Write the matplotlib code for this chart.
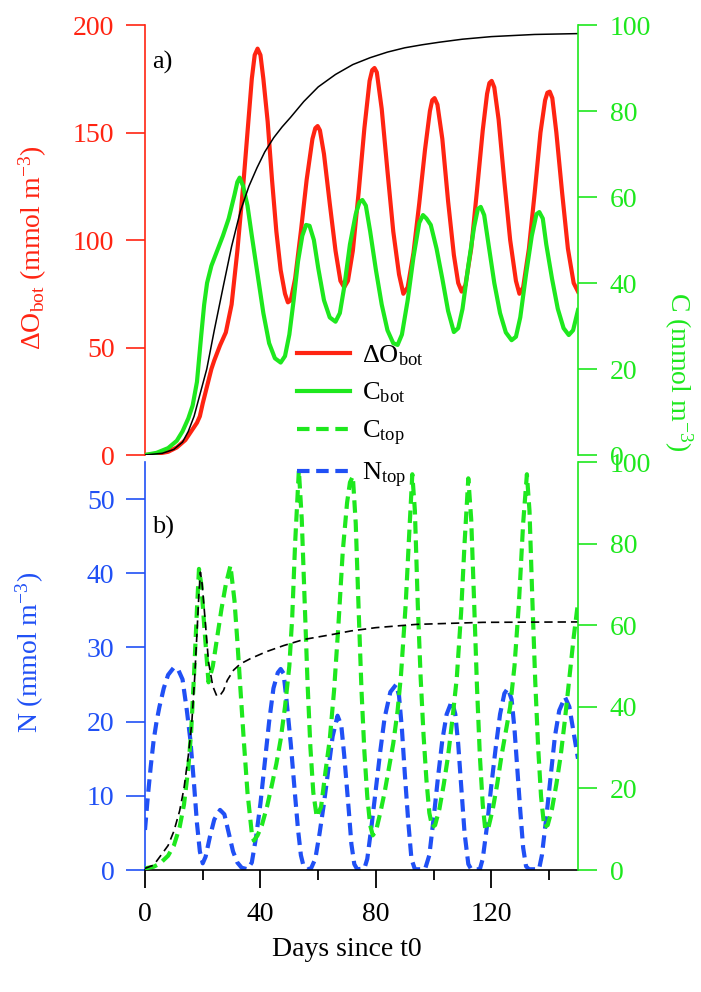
import matplotlib
matplotlib.use('Agg')
import matplotlib.pyplot as plt
from matplotlib.ticker import MultipleLocator

plt.rcParams['font.family'] = ['Liberation Serif', 'DejaVu Serif']
plt.rcParams['mathtext.fontset'] = 'custom'
plt.rcParams['mathtext.rm'] = 'Liberation Serif'
plt.rcParams['mathtext.default'] = 'regular'

RED = '#ff2412'
GREEN = '#1ee81e'
BLUE = '#2050f5'
FS = 20

# ---- panel a) : bottom oxygen deficit (left axis) and C (right axis)
dO_day = [0, 4, 8, 11, 14, 16, 18, 19, 20, 21.5, 23, 24, 26, 28, 30, 32, 34, 35.5, 37, 38, 39, 40, 41,
          42.5, 44, 45.5, 47, 48.5, 49.5, 50.5, 52, 54, 56, 58, 59, 59.8, 60.6, 62, 64, 66, 67.7, 69,
          70.3, 72, 74, 76, 77.8, 78.7, 79.5, 80.3, 82, 84, 86, 88, 89.5, 91, 93, 95, 97, 98.7, 99.5,
          100.3, 101.3, 103, 105, 107, 108.5, 109.7, 111, 113, 115, 117, 118.5, 119.3, 120.1, 121,
          122.5, 124.5, 126.5, 128.5, 129.7, 131, 133, 135, 137, 138.6, 139.4, 140.2, 141.1, 142.5,
          144.5, 146.5, 148.5, 150]
dO_bot = [0, 0.5, 1.5, 3.5, 7, 11, 15, 18, 24, 32, 40, 44, 51, 57, 70, 95, 125, 150, 175, 186, 189,
          186, 175, 155, 128, 104, 86, 75, 71, 72, 82, 104, 128, 147, 152, 153, 151, 140, 117, 95,
          81, 78, 81, 95, 122, 152, 174, 179, 180, 178, 161, 132, 104, 84, 75, 78, 94, 117, 142, 160,
          165, 166, 163, 147, 118, 93, 80, 76, 79, 96, 123, 151, 168, 173, 174, 171, 156, 127, 100, 81,
          75, 78, 96, 122, 150, 165, 168.5, 169, 166, 150, 122, 96, 80, 76]

cb_day = [0, 4, 8, 11, 13, 15, 16.5, 18, 19.5, 20.5, 21.5, 23, 25, 27, 29, 31, 32, 32.8, 34, 35.5, 37,
          39, 41, 43, 45, 47, 48.5, 50, 51.5, 53, 54.5, 55.8, 57, 58.5, 60, 62, 64, 66, 67.5, 69, 71,
          73, 74.3, 75.3, 76.5, 78, 80, 82, 84, 86, 87.5, 89, 91, 93, 95, 96.3, 97.5, 99, 101, 103, 105,
          107, 108.5, 110, 112, 114, 115.3, 116.3, 117.5, 119, 121, 123, 125, 127, 128.5, 130, 132,
          134, 135.6, 136.6, 137.8, 139, 141, 143, 145, 146.8, 148.3, 150]
c_bot = [0, 0.5, 1.6, 3.3, 5.5, 8.5, 11.5, 17, 28, 35, 40, 44, 47.5, 51, 55, 60.5, 63.5, 64.5, 62.5,
         58, 51, 42, 33, 26, 22.5, 21.5, 23, 28, 36, 45, 51, 53.5, 53.3, 50, 43.5, 36, 32, 31, 33, 39,
         49, 56, 58.8, 59.3, 58, 52, 43, 35, 29, 26, 25.6, 28, 36, 46, 54, 55.8, 55, 53.5, 48, 41,
         33.5, 28.6, 29.5, 34, 44, 53, 57.2, 57.7, 55.8, 49, 40, 33, 28.5, 26.7, 27.5, 32, 42, 51,
         56, 56.5, 55, 49, 41, 34, 29.5, 27.9, 29, 33.7]

cum_day = [0, 6, 10, 13, 15, 17, 19, 21.4, 24, 27.2, 30, 33, 36, 38.8, 41.5, 44.6, 47.5, 50.4, 55,
           60, 66, 72, 78, 84, 90, 96, 102, 110, 120, 135, 150]
cum_a = [0, 0.4, 1.3, 3, 5.5, 9, 14, 20, 29, 39.5, 48.5, 56.6, 62.5, 66.8, 70.5, 73.8, 76.3, 78.5,
         82.2, 85.6, 88.5, 90.8, 92.4, 93.7, 94.7, 95.4, 96, 96.7, 97.3, 97.8, 98]

# ---- panel b) : surface N (left axis), C_top (right axis)
n_day = [0, 1, 2, 3, 4, 5, 6.5, 8, 10, 11.5, 13, 14.5, 15.7, 17, 18, 19, 20, 21, 22.5, 24, 26, 27.5,
         29, 30.5, 32, 33.5, 35.5, 37, 38.5, 40, 41.5, 43, 44.5, 46, 47, 48, 49, 50.5, 52, 53, 54, 55,
         56, 57.5, 59, 60.5, 62, 63.5, 65, 66.7, 68, 69, 70.5, 71.5, 72.5, 73.5, 76, 77, 78.5, 80,
         81.5, 83, 85, 87, 88, 89, 90, 91.2, 92.3, 93.5, 97, 98.5, 100, 101.5, 103, 104.5, 106.3,
         107.5, 108.5, 109.5, 110.7, 112, 113, 116, 117, 118.5, 120, 121.5, 123, 124.5, 125.7, 127,
         128, 129, 130, 131, 132, 133, 136.5, 137.5, 139, 140.5, 142, 143.5, 145.5, 147, 148.5, 150]
n_top = [5.4, 10, 14, 17.5, 20, 22, 24.5, 26.3, 27.3, 27, 25.7, 21.5, 17.6, 11.5, 6.3, 2.5, 0.9,
         1.8, 4.5, 6.8, 8.1, 7.5, 5, 2.5, 1, 0.3, 0.1, 1, 4.5, 9, 14.5, 20, 24.5, 26.6, 27.1, 26.5,
         23, 17, 10, 5.5, 2, 0.4, 0.1, 0.2, 1.5, 5, 9, 13.5, 18, 20.8, 19.5, 15.5, 8.5, 3.5, 0.8, 0.1,
         0.2, 1.5, 6, 11, 16, 20.5, 24, 25, 23.5, 19, 13, 6.5, 1.5, 0.1, 0.1, 2, 7, 12.5, 17.5, 21,
         22.8, 21, 17, 11.5, 5, 0.8, 0.1, 0.1, 1.5, 6, 11.5, 16.5, 21, 23.8, 24.5, 23, 19, 13.5, 8,
         3, 0.5, 0.1, 0.1, 2, 7, 12.5, 18, 21.5, 23.3, 22, 18.5, 15]

ct_day = [0, 3, 5.2, 8, 10, 12, 13.5, 15, 16, 17, 18, 18.7, 19.5, 20.5, 22, 23.5, 25, 26.5, 28, 29.6,
          31, 32, 33, 34.2, 35.5, 37, 37.7, 39, 40.5, 42.3, 44, 45.5, 47, 48.5, 50, 51, 52, 53.3,
          54.3, 55.3, 56.3, 57.3, 58.3, 59.5, 61, 62.5, 64, 65.5, 67, 68.5, 70, 71, 72, 73, 74, 75, 76,
          77, 78, 78.9, 80, 81.5, 83, 84.5, 86, 87.5, 88.7, 90.3, 91.5, 92.6, 93.5, 94.5, 95.5, 96.5,
          97.5, 98.5, 99.5, 100.5, 102, 103.5, 105, 106.5, 108, 109.5, 110.7, 112, 113, 114, 115, 116,
          117, 117.9, 119, 120.5, 122, 123.5, 125, 126.5, 128, 129.5, 131, 132.3, 133.2, 134.2,
          135.2, 136.2, 137.2, 138.3, 139.5, 141, 142.5, 144, 145.5, 147, 148.5, 150]
c_top = [0.4, 0.8, 1.6, 3.5, 6, 10.5, 16, 25, 34, 48, 64, 73.8, 70, 60, 46, 50, 57, 64, 70, 74.6, 66,
         56, 45, 32, 19, 9, 7.2, 8.5, 11, 15.6, 21, 26, 32, 40, 50, 62, 80, 98, 86, 66, 46, 30, 19,
         13, 15.5, 24, 32, 44, 60, 78, 90, 95, 96.5, 85, 64, 44, 29, 18, 11, 8.5, 9.5, 14, 19, 25,
         31, 39, 48, 65, 82, 97, 88, 65, 47, 33, 22, 14, 10.5, 11, 15, 21, 28, 37, 47, 63, 80, 96,
         86, 66, 45, 28, 16, 9.8, 10.5, 15, 21, 28, 34, 40, 50, 65, 85, 97, 88, 66, 46, 30, 18, 10.5,
         11, 15, 21, 28, 37, 47, 57, 65.6]

cum_b_day = [0, 3, 5.2, 8, 10, 12, 13.5, 15, 16.2, 17.2, 18, 18.7, 19.2, 19.8, 20.9, 22, 23.5, 24.9,
             26, 27.2, 28.5, 30.7, 33, 36.5, 42, 48, 55, 65.5, 71.4, 80, 94, 117, 150]
cum_b = [0.4, 1.2, 3.3, 6, 9.5, 14.5, 20, 28, 36, 47, 58, 68, 73, 70, 60.7, 51, 45, 42.6, 42.8, 44,
         46.5, 49, 50.5, 51.8, 53.5, 55, 56.5, 57.8, 58.6, 59.4, 60.2, 60.7, 60.8]

fig = plt.figure(figsize=(7.01, 9.92), dpi=100)
L, W = 145 / 701, 433 / 701

# ----- top panel
ax1 = fig.add_axes([L, 1 - 455 / 992, W, 430 / 992])
ax1r = ax1.twinx()
ax1.plot(dO_day, dO_bot, color=RED, lw=3.0, solid_joinstyle='round')
ax1r.plot(cb_day, c_bot, color=GREEN, lw=3.0, solid_joinstyle='round')
ax1r.plot(cum_day, cum_a, color='black', lw=1.1)
ax1.set_xlim(0, 150)
ax1.set_ylim(0, 200)
ax1r.set_ylim(0, 100)
ax1.set_yticks([0, 50, 100, 150, 200])
ax1r.set_yticks([0, 20, 40, 60, 80, 100])
for s in ['top', 'bottom', 'right']:
    ax1.spines[s].set_visible(False)
for s in ['top', 'bottom', 'left']:
    ax1r.spines[s].set_visible(False)
ax1.spines['left'].set_color(RED)
ax1r.spines['right'].set_color(GREEN)
ax1.spines['left'].set_linewidth(1.2)
ax1r.spines['right'].set_linewidth(1.2)
ax1.tick_params(axis='x', bottom=False, labelbottom=False)
ax1.tick_params(axis='y', colors=RED, direction='out', length=14, width=1.2, labelsize=FS, pad=8)
ax1r.tick_params(axis='y', colors=GREEN, direction='out', length=14, width=1.2, labelsize=FS, pad=9)
ax1.patch.set_visible(False)

# ----- bottom panel
ax2 = fig.add_axes([L, 1 - 870 / 992, W, 408 / 992])
ax2r = ax2.twinx()
ax2.plot(n_day, n_top, color=BLUE, lw=3.0, ls=(0, (3, 1.6)))
ax2r.plot(ct_day, c_top, color=GREEN, lw=3.0, ls=(0, (3, 1.6)))
ax2r.plot(cum_b_day, cum_b, color='black', lw=1.2, ls=(0, (5, 3)))
ax2.set_xlim(0, 150)
ax2.set_ylim(0, 55)
ax2r.set_ylim(0, 100)
ax2.set_yticks([0, 10, 20, 30, 40, 50])
ax2r.set_yticks([0, 20, 40, 60, 80, 100])
ax2.xaxis.set_major_locator(MultipleLocator(40))
ax2.xaxis.set_minor_locator(MultipleLocator(20))
for s in ['top', 'right']:
    ax2.spines[s].set_visible(False)
for s in ['top', 'left', 'bottom']:
    ax2r.spines[s].set_visible(False)
ax2.spines['left'].set_color(BLUE)
ax2r.spines['right'].set_color(GREEN)
for sp in [ax2.spines['left'], ax2.spines['bottom'], ax2r.spines['right']]:
    sp.set_linewidth(1.2)
ax2.tick_params(axis='y', colors=BLUE, direction='out', length=14, width=1.2, labelsize=FS, pad=8)
ax2r.tick_params(axis='y', colors=GREEN, direction='out', length=14, width=1.2, labelsize=FS, pad=9)
ax2.tick_params(axis='x', which='major', direction='out', length=13, width=1.3, labelsize=FS, pad=10)
ax2.tick_params(axis='x', which='minor', direction='out', length=7, width=1.3)

# ----- labels
fig.text(33 / 701, 1 - 248 / 992, r'ΔO$_{bot}$ (mmol m$^{-3}$)', color=RED, fontsize=FS,
         rotation=90, ha='center', va='center')
fig.text(678 / 701, 1 - 372 / 992, r'C (mmol m$^{-3}$)', color=GREEN, fontsize=FS,
         rotation=270, ha='center', va='center')
fig.text(30 / 701, 1 - 652 / 992, r'N (mmol m$^{-3}$)', color=BLUE, fontsize=FS,
         rotation=90, ha='center', va='center')
fig.text(347 / 701, 1 - 950 / 992, 'Days since t0', fontsize=FS, ha='center', va='center')
fig.text(152 / 701, 1 - 62 / 992, 'a)', fontsize=FS - 1, ha='left', va='center')
fig.text(152 / 701, 1 - 527 / 992, 'b)', fontsize=FS - 1, ha='left', va='center')

# ----- legend across both panels
h = [plt.Line2D([], [], color=RED, lw=3.0),
     plt.Line2D([], [], color=GREEN, lw=3.0),
     plt.Line2D([], [], color=GREEN, lw=3.0, ls=(0, (3, 1.6))),
     plt.Line2D([], [], color=BLUE, lw=3.0, ls=(0, (3, 1.6)))]
labs = ['ΔO$_{bot}$', 'C$_{bot}$', 'C$_{top}$', 'N$_{top}$']
fig.legend(h, labs, loc='upper left', bbox_to_anchor=(297 / 701, 1 - 343 / 992), frameon=False,
           fontsize=19, handlelength=2.0, handletextpad=0.45, labelspacing=0.5,
           borderpad=0, borderaxespad=0)

fig.savefig('out.png', dpi=100)
